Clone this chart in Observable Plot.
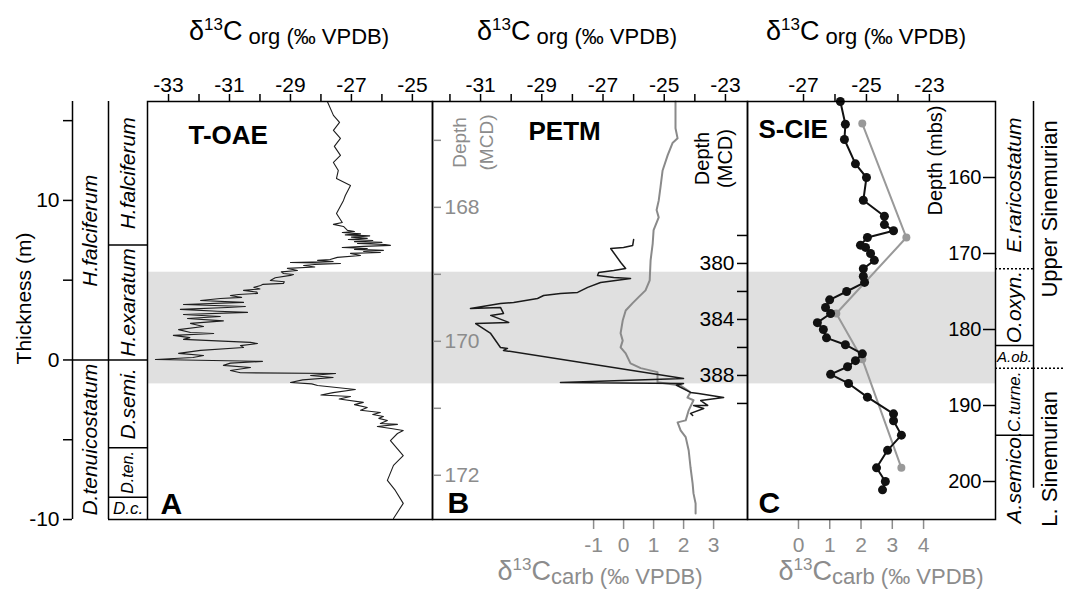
<!DOCTYPE html>
<html><head><meta charset="utf-8">
<script src="https://cdn.jsdelivr.net/npm/d3@7"></script>
<script src="https://cdn.jsdelivr.net/npm/@observablehq/plot@0.6"></script>
<style>
html,body{margin:0;padding:0;background:#fff;}
#chart{position:relative;width:1065px;height:593px;overflow:hidden;font-family:"Liberation Sans",Arial,sans-serif;}
#chart svg{position:absolute;left:0;top:0;}
.ttl{position:absolute;white-space:nowrap;font-size:27px;line-height:27px;transform:translateX(-50%);}
.ttl sup{font-size:17px;line-height:0;vertical-align:10px;}
.ttl .s{font-size:22px;line-height:0;vertical-align:-4px;}
.gray{color:#8c8c8c;}
</style></head>
<body><div id="chart"></div>
<script>
// ===================== DATA =====================
// Panel A: T-OAE, thickness (m) vs d13C org
const toaeThickness = [16.2,15.33,14.89,14.39,13.89,13.39,12.82,12.38,11.88,11.38,10.94,10.31,10.0,9.18,8.62,8.50,8.37,8.12,8.05,7.99,7.90,7.84,7.78,7.70,7.62,7.55,7.49,7.42,7.37,7.30,7.24,7.18,7.12,7.05,6.99,6.93,6.87,6.80,6.74,6.68,
  6.55,6.43,6.30,6.24,6.17,6.11,6.05,5.98,5.92,5.83,5.74,5.61,5.52,5.42,5.36,5.30,5.15,4.98,4.90,4.80,4.74,4.67,4.55,4.45,4.36,4.25,4.17,4.10,4.04,3.92,3.85,3.73,3.61,3.48,3.35,3.29,3.17,3.05,2.98,2.85,2.72,2.60,2.45,2.29,2.10,1.90,1.72,1.66,1.54,1.40,1.29,1.10,1.03,0.90,0.78,0.60,0.41,0.28,0.15,0.03,-0.09,-0.20,-0.34,-0.47,-0.66,-0.80,-0.85,-0.97,-1.10,-1.25,-1.41,-1.50,-1.60,-1.85,-2.05,-2.20,-2.29,-2.45,-2.66,-2.80,-2.98,-3.15,-3.29,-3.42,-3.54,-3.66,-3.79,-3.98,-4.04,-4.17,-4.30,-4.42,-4.61,-5.05,-5.99,-6.61,-7.55,-8.18,-8.99,-9.94];
const toaeOrg = [-27.79,-27.59,-27.39,-27.59,-27.36,-27.56,-27.36,-27.59,-27.43,-27.49,-27.03,-27.20,-27.26,-27.49,-27.30,-27.59,-27.26,-27.13,-26.9,-27.30,-26.7,-27.2,-26.4,-27.0,-26.48,-27.1,-26.3,-26.9,-26.0,-26.8,-25.9,-25.72,-26.6,-27.30,-26.48,-26.9,-25.95,-26.6,-26.05,-27.03,
  -26.7,-27.46,-27.7,-28.11,-27.6,-29.00,-27.36,-28.2,-28.57,-28.2,-29.10,-28.77,-29.3,-29.23,-28.9,-29.00,-29.5,-29.66,-29.2,-29.23,-29.9,-29.98,-30.2,-30.0,-30.54,-30.1,-30.08,-30.7,-30.97,-30.6,-31.3,-31.95,-30.54,-32.51,-30.48,-31.07,-32.61,-31.39,-30.41,-32.51,-31.30,-32.38,-31.20,-32.28,-31.85,-32.67,-32.28,-31.52,-32.84,-32.3,-32.51,-30.31,-30.08,-30.64,-30.54,-31.95,-32.67,-31.85,-32.2,-33.43,-29.92,-30.97,-31.20,-30.31,-30.97,-30.64,-27.52,-28.34,-27.6,-28.6,-29.00,-28.3,-28.11,-26.87,-27.6,-28.0,-27.03,-27.4,-26.61,-26.9,-26.48,-26.7,-26.05,-26.3,-25.95,-26.1,-25.82,-26.05,-25.49,-26.15,-25.7,-25.30,-25.49,-25.72,-25.30,-25.62,-25.82,-25.56,-25.30,-25.62];

// Panel B: PETM, d13C org vs depth (MCD, right axis)
const petmOrgDepth = [378.29,378.71,378.86,378.93,379.93,380.36,380.5,380.64,380.86,381.0,381.07,381.36,381.71,382.07,382.14,382.29,382.5,382.79,382.86,383.21,383.14,383.57,383.71,384.21,384.29,385.0,386.0,386.07,386.21,388.21,388.5,388.57,388.7,389.21,389.29,389.57,389.79,390.14,390.14,390.36,390.71,390.86];
const petmOrg = [-26.0,-26.03,-26.33,-26.75,-26.42,-26.26,-26.65,-27.14,-27.18,-26.65,-26.10,-27.08,-27.50,-27.83,-28.39,-28.94,-29.14,-29.92,-30.35,-31.33,-30.35,-30.25,-30.67,-30.08,-31.16,-30.67,-30.35,-30.12,-30.25,-24.37,-28.39,-24.37,-24.6,-24.14,-23.88,-23.06,-23.81,-23.58,-24.04,-23.71,-24.14,-24.07];
// Panel B: PETM, d13C carb vs depth (MCD, left axis)
const petmCarbDepth = [166.42,166.82,166.97,167.04,167.22,167.45,167.70,167.90,168.04,168.15,168.34,168.54,168.79,169.09,169.24,169.34,169.43,169.54,169.69,169.88,169.99,170.09,170.18,170.33,170.40,170.46,170.61,170.66,170.76,170.84,170.88,171.03,171.18,171.21,171.33,171.43,171.63,171.88,172.12,172.27,172.42,172.57];
const petmCarb = [1.73,1.73,1.80,1.63,1.47,1.30,1.23,1.17,1.10,1.17,1.00,0.97,0.90,0.87,0.73,0.50,0.30,0.07,-0.03,-0.10,-0.03,-0.10,0.07,0.23,0.57,1.13,1.13,1.90,2.23,2.13,2.33,2.17,2.07,1.80,1.90,2.07,2.17,2.23,2.30,2.33,2.40,2.40];

// Panel C: S-CIE, depth (mbs)
const scieOrgDepth = [150.0,153.0,155.0,158.2,160.0,163.0,165.1,166.2,167.0,167.9,168.9,169.2,170.0,170.9,172.0,173.0,173.8,175.0,176.1,177.1,177.9,179.1,180.0,181.1,182.0,183.2,184.1,184.9,185.9,187.1,188.9,191.1,192.0,193.9,195.9,198.2,200.0,201.1];
const scieOrg = [-25.83,-25.67,-25.70,-25.35,-25.0,-25.10,-24.43,-24.43,-24.14,-24.97,-25.19,-25.03,-24.87,-24.75,-25.10,-25.10,-25.06,-25.63,-26.17,-26.30,-26.14,-26.56,-26.37,-26.27,-25.67,-25.13,-25.35,-25.60,-26.14,-25.57,-24.97,-24.14,-24.14,-23.89,-24.33,-24.68,-24.40,-24.49];
const scieCarbDepth = [152.9,167.9,177.9,183.9,198.2];
const scieCarb = [2.04,3.45,1.21,2.04,3.29];

// CIE interval (thickness, m)
const bandThickness = [-1.5, 5.5];

// Left biozones (thickness, m); column 0 = outer, 1 = inner
const leftZoneNames = ["H.falciferum","D.tenuicostatum","H.falciferum","H.exaratum","D.semi.","D.ten.","D.c."];
const leftZoneCol   = [0,0,1,1,1,1,1];
const leftZoneTop   = [16.2,0,16.2,7.2,0,-5.5,-8.6];
const leftZoneBase  = [0,-10,7.2,0,-5.5,-8.6,-10];

// Right biozones (depth, mbs)
const rightZoneNames = ["E.raricostatum","O.oxyn.","A.ob.","C.turne.","A.semico.","Upper Sinemurian","L. Sinemurian"];
const rightZoneCol   = [0,0,0,0,0,1,1];
const rightZoneTop   = [150,172.0,182.1,185.1,193.9,150,185.1];
const rightZoneBase  = [172.0,182.1,185.1,193.9,205,185.1,205];
const rightBoundDepth   = [172.0,182.1,185.1,193.9,185.1];
const rightBoundCol     = [0,0,0,0,1];
const rightBoundCertain = [false,true,false,true,false];
const rightDividerEnd = 200.9;

// Axis ticks
const thickTicks = [-10,-5,0,5,10,15], thickLabels = [-10,0,10];
const orgTicksA = [-33,-32,-31,-30,-29,-28,-27,-26,-25], orgLabelsA = [-33,-31,-29,-27,-25];
const orgTicksB = [-32,-31,-30,-29,-28,-27,-26,-25,-24,-23], orgLabelsB = [-31,-29,-27,-25,-23];
const orgTicksC = [-27,-26,-25,-24,-23], orgLabelsC = [-27,-25,-23];
const carbTicksB = [-1,0,1,2,3];
const carbTicksC = [0,1,2,3,4];
const mcdBlackTicks = [378,380,382,384,386,388,390], mcdBlackLabels = [380,384,388];
const mcdGrayTicks = [167,168,169,170,171,172], mcdGrayLabels = [168,170,172];
const mbsTicks = [160,170,180,190,200];

// Scale domains (edges of each panel frame)
const thickDomain = [-10, 16.2];
const orgDomainA = [-33.69, -24.34];
const orgDomainB = [-32.57, -22.28];
const carbDomainB = [-6.37, 4.13];
const mcdBlackDomain = [368.43, 398.29];
const mcdGrayDomain = [166.42, 172.66];
const orgDomainC = [-28.78, -20.90];
const carbDomainC = [-1.63, 6.30];
const mbsDomain = [150, 205];

// ===================== DRAW =====================
const W = 1065, H = 593;
const FONT = "Liberation Sans, Arial, sans-serif";
const GRAY = "#8c8c8c";
const chart = document.getElementById("chart");
const zip = (cols) => { const k = Object.keys(cols); return cols[k[0]].map((_, i) => Object.fromEntries(k.map(key => [key, cols[key][i]]))); };
const labelIf = (labels) => d => labels.includes(d) ? String(d) : "";
const box = (l, r) => ({marginLeft: l, marginRight: W - r, marginTop: 101, marginBottom: H - 519});
const centered = {textAnchor: "middle", lineAnchor: "middle"};
function add(opts) {
  const svg = Plot.plot({width: W, height: H, style: {background: "transparent", overflow: "visible", fontFamily: FONT}, ...opts});
  chart.appendChild(svg);
}

const toae = zip({th: toaeThickness, v: toaeOrg});
const petmO = zip({d: petmOrgDepth, v: petmOrg});
const petmC = zip({d: petmCarbDepth, v: petmCarb});
const scieO = zip({d: scieOrgDepth, v: scieOrg});
const scieC = zip({d: scieCarbDepth, v: scieCarb});
const leftZones = zip({name: leftZoneNames, col: leftZoneCol, top: leftZoneTop, base: leftZoneBase});
const rightZones = zip({name: rightZoneNames, col: rightZoneCol, top: rightZoneTop, base: rightZoneBase});
const rightBounds = zip({d: rightBoundDepth, col: rightBoundCol, certain: rightBoundCertain});

// 1. CIE band across the three panels
add({...box(147, 995), y: {domain: thickDomain, axis: null},
  marks: [Plot.rect([bandThickness], {y1: d => d[0], y2: d => d[1], fill: "#e0e0e0"})]});

// 2. Left biozone columns + thickness axis
const zoneLabel = {x: d => d.col + 0.5, y: d => (d.top + d.base) / 2, text: "name", fontStyle: "italic", ...centered};
add({marginLeft: 72, marginRight: W - 147, marginTop: 101, marginBottom: H - 519,
  x: {type: "linear", domain: [0, 1, 2], range: [72, 108, 147], axis: null},
  y: {domain: thickDomain, axis: null},
  marks: [
    Plot.ruleX([0, 1], {strokeWidth: 1.5}),
    Plot.ruleY(leftZones.filter(d => d.base > thickDomain[0]), {y: "base", x1: "col", x2: d => d.col + 1, strokeWidth: 1.5}),
    Plot.ruleY([thickDomain[0]], {x1: 1, x2: 2, strokeWidth: 1.5}),
    Plot.axisY({anchor: "left", ticks: thickTicks, tickFormat: labelIf(thickLabels), tickSize: 9, tickPadding: 4, fontSize: 21, label: null, strokeWidth: 1.5}),
    Plot.text(leftZones.filter(d => d.name.length > 6), {...zoneLabel, rotate: -90, fontSize: 21}),
    Plot.text(leftZones.filter(d => d.name === "D.ten."), {...zoneLabel, rotate: -90, fontSize: 16}),
    Plot.text(leftZones.filter(d => d.name === "D.c."), {...zoneLabel, fontSize: 17}),
    Plot.text(["Thickness (m)"], {text: d => d, frameAnchor: "left", dx: -48, dy: -12, rotate: -90, fontSize: 21, ...centered})
  ]});

// 3. Panel A
add({...box(147, 432),
  x: {domain: orgDomainA}, y: {domain: thickDomain, axis: null},
  marks: [
    Plot.line(toae, {x: "v", y: "th", stroke: "#1e1e1e", strokeWidth: 1.1}),
    Plot.frame({strokeWidth: 1.5}),
    Plot.axisX({anchor: "top", ticks: orgTicksA, tickFormat: labelIf(orgLabelsA), tickSize: 8, tickPadding: 2, fontSize: 21, label: null, strokeWidth: 1.5}),
    Plot.text(["T-OAE"], {text: d => d, frameAnchor: "top-left", dx: 41, dy: 42, textAnchor: "start", lineAnchor: "bottom", fontSize: 26, fontWeight: "bold"}),
    Plot.text(["A"], {text: d => d, frameAnchor: "bottom-left", dx: 13, dy: -6, textAnchor: "start", lineAnchor: "bottom", fontSize: 30, fontWeight: "bold"})
  ]});

// 4. Panel B carb (gray)
add({...box(432, 747),
  x: {domain: carbDomainB}, y: {domain: mcdGrayDomain, reverse: true, axis: null},
  marks: [
    Plot.line(petmC, {x: "v", y: "d", stroke: "#8a8a8a", strokeWidth: 2}),
    Plot.axisX({anchor: "bottom", ticks: carbTicksB, tickSize: 10, tickPadding: 8, fontSize: 21, color: GRAY, label: null, strokeWidth: 1.5, tickFormat: d => String(d)})
  ]});

// 5. Panel B org (black)
add({...box(432, 747),
  x: {domain: orgDomainB}, y: {domain: mcdBlackDomain, reverse: true, axis: null},
  marks: [
    Plot.line(petmO, {x: "v", y: "d", stroke: "#1a1a1a", strokeWidth: 1.5}),
    Plot.frame({strokeWidth: 1.5}),
    Plot.axisX({anchor: "top", ticks: orgTicksB, tickFormat: labelIf(orgLabelsB), tickSize: 8, tickPadding: 2, fontSize: 21, label: null, strokeWidth: 1.5}),
    Plot.text(["PETM"], {text: d => d, frameAnchor: "top-left", dx: 96, dy: 38, textAnchor: "start", lineAnchor: "bottom", fontSize: 26, fontWeight: "bold"}),
    Plot.text(["B"], {text: d => d, frameAnchor: "bottom-left", dx: 15, dy: -7, textAnchor: "start", lineAnchor: "bottom", fontSize: 30, fontWeight: "bold"})
  ]});

// 6. Panel B right depth axis (black, MCD)
add({marginLeft: 747, marginRight: 100, marginTop: 101, marginBottom: H - 519,
  y: {domain: mcdBlackDomain, reverse: true},
  marks: [
    Plot.axisY({anchor: "left", ticks: mcdBlackTicks, tickFormat: labelIf(mcdBlackLabels), tickSize: 10, tickPadding: 3, fontSize: 21, label: null, strokeWidth: 1.5}),
    Plot.text(["Depth\n(MCD)"], {text: d => d, frameAnchor: "top-left", dx: -34, dy: 57, rotate: -90, fontSize: 20, lineHeight: 1.15, ...centered})
  ]});

// 7. Panel B left depth axis (gray, MCD)
add({marginLeft: 100, marginRight: W - 432, marginTop: 101, marginBottom: H - 519,
  y: {domain: mcdGrayDomain, reverse: true},
  marks: [
    Plot.axisY({anchor: "right", ticks: mcdGrayTicks, tickFormat: labelIf(mcdGrayLabels), tickSize: 8, tickPadding: 4, fontSize: 21, color: GRAY, label: null, strokeWidth: 1.5}),
    Plot.text(["Depth\n(MCD)"], {text: d => d, frameAnchor: "top-right", dx: 38, dy: 41, rotate: -90, fontSize: 19, lineHeight: 1.45, fill: GRAY, ...centered})
  ]});

// 8. Panel C carb (gray)
add({...box(747, 995),
  x: {domain: carbDomainC}, y: {domain: mbsDomain, reverse: true, axis: null},
  marks: [
    Plot.line(scieC, {x: "v", y: "d", stroke: "#999", strokeWidth: 2}),
    Plot.dot(scieC, {x: "v", y: "d", r: 4, fill: "#999"}),
    Plot.axisX({anchor: "bottom", ticks: carbTicksC, tickSize: 10, tickPadding: 8, fontSize: 21, color: GRAY, label: null, strokeWidth: 1.5, tickFormat: d => String(d)})
  ]});

// 9. Panel C org (black)
add({...box(747, 995),
  x: {domain: orgDomainC}, y: {domain: mbsDomain, reverse: true, axis: null},
  marks: [
    Plot.line(scieO, {x: "v", y: "d", stroke: "#111", strokeWidth: 2}),
    Plot.dot(scieO, {x: "v", y: "d", r: 4.5, fill: "#111"}),
    Plot.frame({strokeWidth: 1.5}),
    Plot.axisX({anchor: "top", ticks: orgTicksC, tickFormat: labelIf(orgLabelsC), tickSize: 8, tickPadding: 2, fontSize: 21, label: null, strokeWidth: 1.5}),
    Plot.text(["S-CIE"], {text: d => d, frameAnchor: "top-left", dx: 11, dy: 36, textAnchor: "start", lineAnchor: "bottom", fontSize: 26, fontWeight: "bold"}),
    Plot.text(["C"], {text: d => d, frameAnchor: "bottom-left", dx: 11, dy: -7, textAnchor: "start", lineAnchor: "bottom", fontSize: 30, fontWeight: "bold"})
  ]});

// 10. Panel C depth axis (mbs)
add({marginLeft: 995, marginRight: 20, marginTop: 101, marginBottom: H - 519,
  y: {domain: mbsDomain, reverse: true},
  marks: [
    Plot.axisY({anchor: "left", ticks: mbsTicks, tickSize: 12, tickPadding: 2, fontSize: 20, label: null, strokeWidth: 1.5, tickFormat: d => String(d)}),
    Plot.text(["Depth (mbs)"], {text: d => d, frameAnchor: "top-left", dx: -60, dy: 59, rotate: -90, fontSize: 20, ...centered})
  ]});

// 11. Right biozone columns
const rz = {x: d => d.col + 0.5, y: d => (d.top + d.base) / 2, text: "name", ...centered};
add({marginLeft: 995, marginRight: 0, marginTop: 101, marginBottom: H - 519,
  x: {type: "linear", domain: [0, 1, 2], range: [995, 1033, 1065], axis: null},
  y: {domain: mbsDomain, reverse: true, axis: null},
  marks: [
    Plot.ruleX([1], {y1: mbsDomain[0], y2: rightDividerEnd, strokeWidth: 1.5}),
    Plot.ruleY(rightBounds.filter(d => d.certain), {y: "d", x1: "col", x2: d => d.col + 1, strokeWidth: 1.5}),
    Plot.ruleY(rightBounds.filter(d => !d.certain), {y: "d", x1: "col", x2: d => d.col + 1, strokeWidth: 1.5, strokeDasharray: "2,2"}),
    Plot.text(rightZones.filter(d => ["E.raricostatum", "O.oxyn.", "A.semico."].includes(d.name)), {...rz, rotate: -90, fontSize: 21, fontStyle: "italic"}),
    Plot.text(rightZones.filter(d => d.name === "C.turne."), {...rz, rotate: -90, fontSize: 17, fontStyle: "italic"}),
    Plot.text(rightZones.filter(d => d.name === "A.ob."), {...rz, fontSize: 15, fontStyle: "italic"}),
    Plot.text(rightZones.filter(d => d.name === "Upper Sinemurian"), {...rz, rotate: -90, fontSize: 22, dy: -26}),
    Plot.text(rightZones.filter(d => d.name === "L. Sinemurian"), {...rz, rotate: -90, fontSize: 22, dy: 15})
  ]});

// Axis titles (HTML, with super/subscripts)
const titles = [
  {x: 289, top: 18, cls: "", sub: " org (‰ VPDB)"},
  {x: 577, top: 18, cls: "", sub: " org (‰ VPDB)"},
  {x: 866, top: 18, cls: "", sub: " org (‰ VPDB)"},
  {x: 600, top: 558, cls: "gray", sub: "carb (‰ VPDB)"},
  {x: 881, top: 558, cls: "gray", sub: "carb (‰ VPDB)"}
];
for (const t of titles) {
  const div = document.createElement("div");
  div.className = "ttl " + t.cls;
  div.style.left = t.x + "px";
  div.style.top = t.top + "px";
  div.innerHTML = `δ<sup>13</sup>C<span class="s">${t.sub}</span>`;
  chart.appendChild(div);
}
</script>
</body></html>
